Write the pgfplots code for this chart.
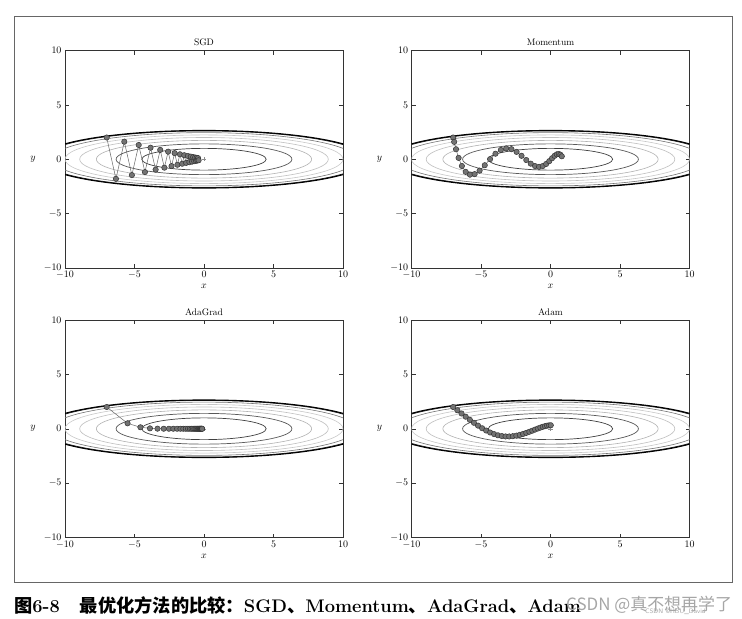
\documentclass[border=0pt]{standalone}
\usepackage{fontspec}
\usepackage{pgfplots}
\pgfplotsset{compat=1.18}
\newfontfamily\cjk{Noto Sans CJK SC}

\pgfplotsset{
  opt/.style={
    scale only axis, width=278bp, height=217.5bp,
    xmin=-10, xmax=10, ymin=-10, ymax=10,
    xtick={-10,-5,0,5,10}, ytick={-10,-5,0,5,10},
    tick align=inside, major tick length=4bp,
    tick style={black!80, line width=0.5bp},
    axis line style={black!80, line width=0.6bp},
    ticklabel style={font=\fontsize{10}{12}\selectfont},
    xlabel={$x$}, ylabel={$y$},
    xlabel style={at={(axis description cs:0.5,0)}, anchor=base, yshift=-20.5bp, font=\fontsize{10}{12}\selectfont},
    ylabel style={rotate=-90, at={(axis description cs:0,0.5)}, anchor=center, xshift=-32bp, font=\fontsize{10}{12}\selectfont},
    title style={at={(0.5,1)}, anchor=base, yshift=-1bp, font=\fontsize{9.5}{11}\selectfont},
  },
  path/.style={black!60, line width=0.5bp, mark=*, mark size=2.7bp,
    mark options={fill=black!55, draw=black!80, line width=0.5bp}},
}
\newcommand{\contours}{%
  \draw[black!75, line width=0.7bp] (axis cs:0,0) ellipse [x radius=4.472, y radius=1.0];
  \draw[black!65, line width=0.7bp] (axis cs:0,0) ellipse [x radius=6.325, y radius=1.414];
  \draw[black!30, line width=0.6bp] (axis cs:0,0) ellipse [x radius=7.746, y radius=1.732];
  \draw[black!25, line width=0.6bp] (axis cs:0,0) ellipse [x radius=8.944, y radius=2.0];
  \draw[black!22, line width=0.6bp] (axis cs:0,0) ellipse [x radius=10.0, y radius=2.236];
  \draw[black!55, line width=0.6bp] (axis cs:0,0) ellipse [x radius=10.954, y radius=2.449];
  \draw[black!85, line width=0.8bp] (axis cs:0,0) ellipse [x radius=11.68, y radius=2.605];
  \draw[black, line width=1.1bp] (axis cs:0,0) ellipse [x radius=11.832, y radius=2.646];
  \addplot[only marks, mark=+, mark size=2.2bp, black!45, line width=0.5bp] coordinates {(0,0)};
}

\begin{document}
\begin{tikzpicture}
\useasboundingbox (0,0) rectangle (742bp,-619bp);
\fill[white] (0,0) rectangle (742bp,-619bp);
\draw[black!60, line width=1bp] (14.5bp,-16bp) rectangle (732.5bp,-582bp);

% SGD
\begin{axis}[opt, at={(65bp,-268bp)}, anchor=south west, title={SGD}]
\contours
\addplot[path] coordinates {
(-7,2) (-6.335,-1.8) (-5.733,1.62) (-5.189,-1.458) (-4.696,1.312) (-4.250,-1.181)
(-3.846,1.063) (-3.480,-0.957) (-3.150,0.861) (-2.851,-0.775) (-2.580,0.697)
(-2.335,-0.628) (-2.113,0.565) (-1.912,-0.508) (-1.731,0.458) (-1.566,-0.412)
(-1.417,0.371) (-1.283,-0.334) (-1.161,0.300) (-1.051,-0.270) (-0.951,0.243)
(-0.860,-0.219) (-0.779,0.197) (-0.705,-0.177) (-0.638,0.160) (-0.577,-0.144)
(-0.522,0.129) (-0.473,-0.116) (-0.428,0.105) (-0.387,-0.094)};
\end{axis}

% Momentum
\begin{axis}[opt, at={(411.5bp,-268bp)}, anchor=south west, title={Momentum}]
\contours
\addplot[path] coordinates {
(-7,2) (-6.93,1.6) (-6.798,0.92) (-6.611,0.124) (-6.376,-0.617) (-6.101,-1.161)
(-5.793,-1.418) (-5.458,-1.366) (-5.101,-1.046) (-4.729,-0.548) (-4.348,0.009)
(-3.960,0.509) (-3.572,0.857) (-3.187,0.998) (-2.809,0.927) (-2.440,0.676)
(-2.084,0.316) (-1.743,-0.071) (-1.418,-0.406) (-1.112,-0.626) (-0.825,-0.699)
(-0.558,-0.624) (-0.313,-0.433) (-0.089,-0.174) (0.113,0.094) (0.295,0.316)
(0.455,0.453) (0.594,0.486) (0.714,0.418) (0.814,0.273)};
\end{axis}

% AdaGrad
\begin{axis}[opt, at={(65bp,-537.5bp)}, anchor=south west, title={AdaGrad}]
\contours
\addplot[path] coordinates {
(-7,2) (-5.5,0.5) (-4.573,0.136) (-3.888,0.037) (-3.345,0.010) (-2.899,0.003)
(-2.524,0.001) (-2.206,0) (-1.932,0) (-1.695,0) (-1.489,0) (-1.310,0) (-1.153,0)
(-1.015,0) (-0.895,0) (-0.788,0) (-0.695,0) (-0.613,0) (-0.540,0) (-0.477,0)
(-0.420,0) (-0.371,0) (-0.327,0) (-0.289,0) (-0.255,0) (-0.225,0) (-0.198,0)
(-0.175,0) (-0.154,0) (-0.136,0)};
\end{axis}

% Adam
\begin{axis}[opt, at={(411.5bp,-537.5bp)}, anchor=south west, title={Adam}]
\contours
\addplot[path] coordinates {
(-7,2) (-6.7,1.7) (-6.400,1.402) (-6.102,1.109) (-5.804,0.823) (-5.507,0.548)
(-5.213,0.288) (-4.920,0.049) (-4.630,-0.164) (-4.343,-0.346) (-4.059,-0.492)
(-3.780,-0.600) (-3.504,-0.671) (-3.234,-0.706) (-2.969,-0.708) (-2.710,-0.682)
(-2.457,-0.631) (-2.211,-0.561) (-1.973,-0.476) (-1.743,-0.380) (-1.521,-0.279)
(-1.309,-0.176) (-1.106,-0.075) (-0.913,0.021) (-0.730,0.106) (-0.557,0.180)
(-0.396,0.239) (-0.246,0.283) (-0.107,0.310) (0.020,0.322)};
\end{axis}

% caption
\node[anchor=base west, inner sep=0] at (14bp,-612bp)
  {\fontsize{18.3}{21}\selectfont{\cjk\bfseries 图}\textbf{6-8}\hspace{1.1em}{\cjk\bfseries 最优化方法的比较：}\textbf{SGD}{\cjk\bfseries 、}\textbf{Momentum}{\cjk\bfseries 、}\textbf{AdaGrad}{\cjk\bfseries 、}\textbf{Adam}};
% watermark
\node[anchor=base west, inner sep=0, text=black!35] at (566bp,-610bp)
  {\fontsize{17}{20}\selectfont\cjk CSDN @真不想再学了};
\node[anchor=base west, inner sep=0, text=black!35] at (645bp,-613bp)
  {\fontsize{6.5}{8}\selectfont\sffamily CSDN @HBU\_David};
\end{tikzpicture}
\end{document}
